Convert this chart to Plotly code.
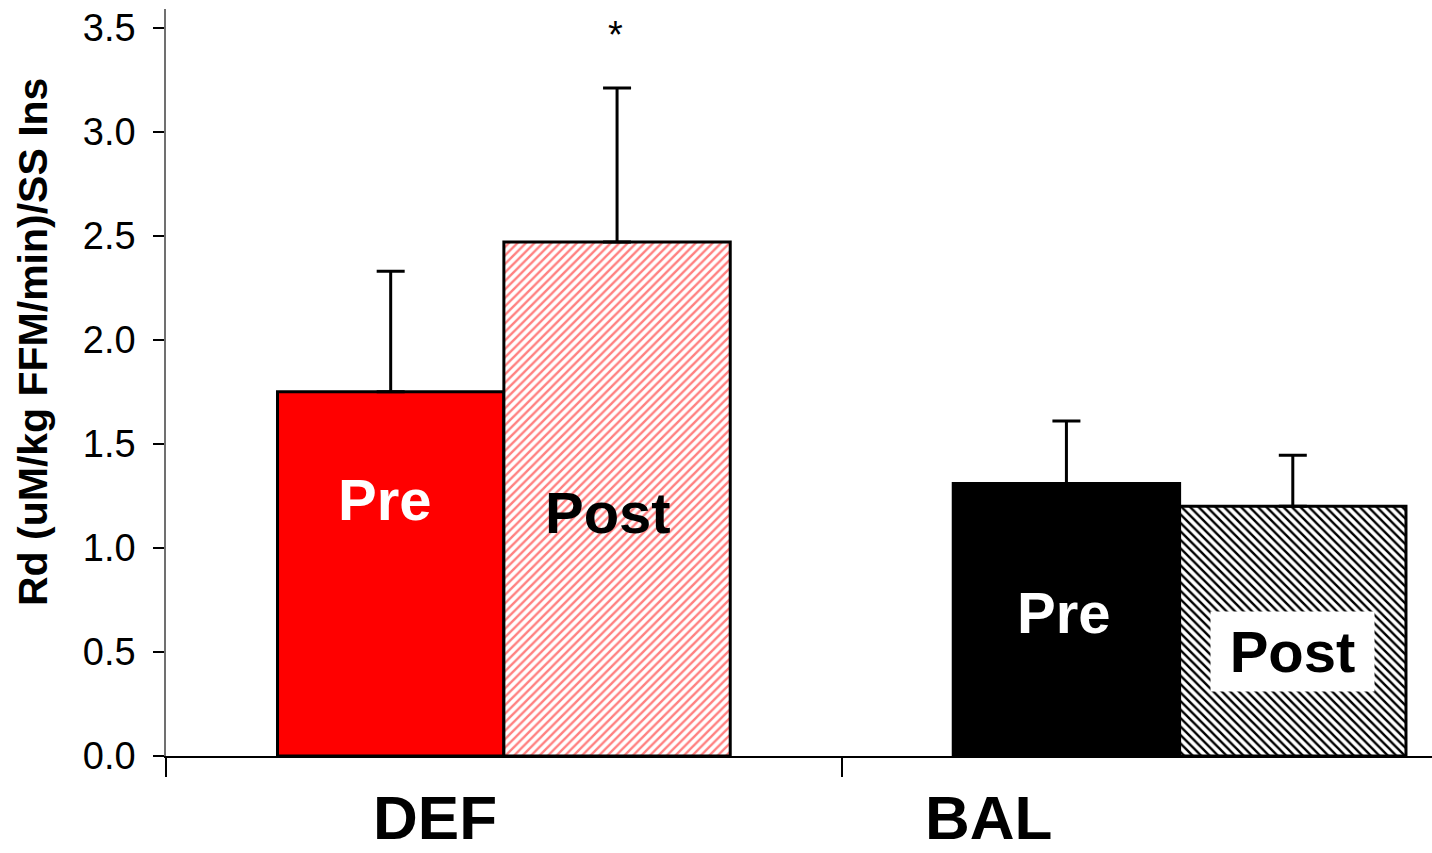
import plotly.graph_objects as go

groups = ["DEF", "BAL"]
phases = ["Pre", "Post"]
pre_vals = [1.75, 1.31]
pre_err = [0.58, 0.30]
post_vals = [2.47, 1.20]
post_err = [0.74, 0.245]
ytitle = "Rd (uM/kg FFM/min)/SS Ins"

BARGAP = 0.33
half = (1 - BARGAP) / 4  # offset of each bar centre from group centre

fig = go.Figure()
fig.add_trace(go.Bar(
    x=groups, y=pre_vals, name="Pre",
    marker=dict(color=["#FF0000", "#000000"], line=dict(color="black", width=3)),
    error_y=dict(type="data", symmetric=False, array=pre_err,
                 arrayminus=[0, 0], color="black", thickness=3, width=14),
))
fig.add_trace(go.Bar(
    x=groups, y=post_vals, name="Post",
    marker=dict(color="white", line=dict(color="black", width=3),
                pattern=dict(shape=["/", "\\"], fgcolor=["#FF8080", "#000000"],
                             bgcolor="white", size=6, solidity=0.4,
                             fillmode="replace")),
    error_y=dict(type="data", symmetric=False, array=post_err,
                 arrayminus=[0, 0], color="black", thickness=3, width=14),
))

FONT = "Liberation Sans, Arial, sans-serif"
annotations = []
# in-bar labels: (group index, phase sign, text, y, xshift, colour, boxed)
label_specs = [
    (0, -1, "Pre", 1.235, -6, "white", False),
    (0, 1, "Post", 1.168, -9, "black", False),
    (1, -1, "Pre", 0.692, -2, "white", False),
    (1, 1, "Post", 0.50, 0, "black", True),
]
for gi, sgn, txt, yy, xs, col, boxed in label_specs:
    a = dict(x=gi + sgn * half, y=yy, xref="x", yref="y", text="<b>%s</b>" % txt,
             showarrow=False, xshift=xs, xanchor="center", yanchor="middle",
             font=dict(family=FONT, size=58, color=col))
    if boxed:
        a.update(bgcolor="white", borderpad=8, width=147, height=63)
    annotations.append(a)

# significance asterisk
annotations.append(dict(x=0 + half, y=3.465, xref="x", yref="y", text="*",
                        showarrow=False, xshift=-2, xanchor="center", yanchor="middle",
                        font=dict(family=FONT, size=38, color="black")))

# group labels
group_label_x = [435, 988]
for g, px in zip(groups, group_label_x):
    annotations.append(dict(x=(px - 166) / 1266, y=-(818 - 756) / 747,
                            xref="paper", yref="paper",
                            xanchor="center", yanchor="middle",
                            text="<b>%s</b>" % g, showarrow=False,
                            font=dict(family=FONT, size=62, color="black")))

# y-axis title
annotations.append(dict(x=(33 - 166) / 1266, y=(756 - 342) / 747,
                        xref="paper", yref="paper", xanchor="center", yanchor="middle",
                        text="<b>%s</b>" % ytitle, textangle=-90, showarrow=False,
                        font=dict(family=FONT, size=41, color="black")))

fig.update_layout(
    width=1432, height=853,
    margin=dict(l=166, r=0, t=9, b=97),
    paper_bgcolor="white", plot_bgcolor="white",
    barmode="group", bargap=BARGAP, bargroupgap=0,
    showlegend=False,
    annotations=annotations,
    xaxis=dict(type="category", range=[-0.5, 1.3735], showticklabels=False,
               tickson="boundaries", ticks="outside", ticklen=19, tickwidth=1.5,
               tickcolor="black", showline=True, linecolor="black", linewidth=1.5,
               showgrid=False, zeroline=False),
    yaxis=dict(range=[0, 3.59], dtick=0.5, tick0=0, tickformat=".1f",
               ticks="outside", ticklen=11, tickwidth=1.5, tickcolor="black",
               showline=True, linecolor="#707070", linewidth=1.5,
               showgrid=False, zeroline=False, ticklabelstandoff=10,
               tickfont=dict(family=FONT, size=38, color="black")),
)

fig.write_html("out.html", config={"displayModeBar": False},
               post_script="document.body.style.margin='0px';")
